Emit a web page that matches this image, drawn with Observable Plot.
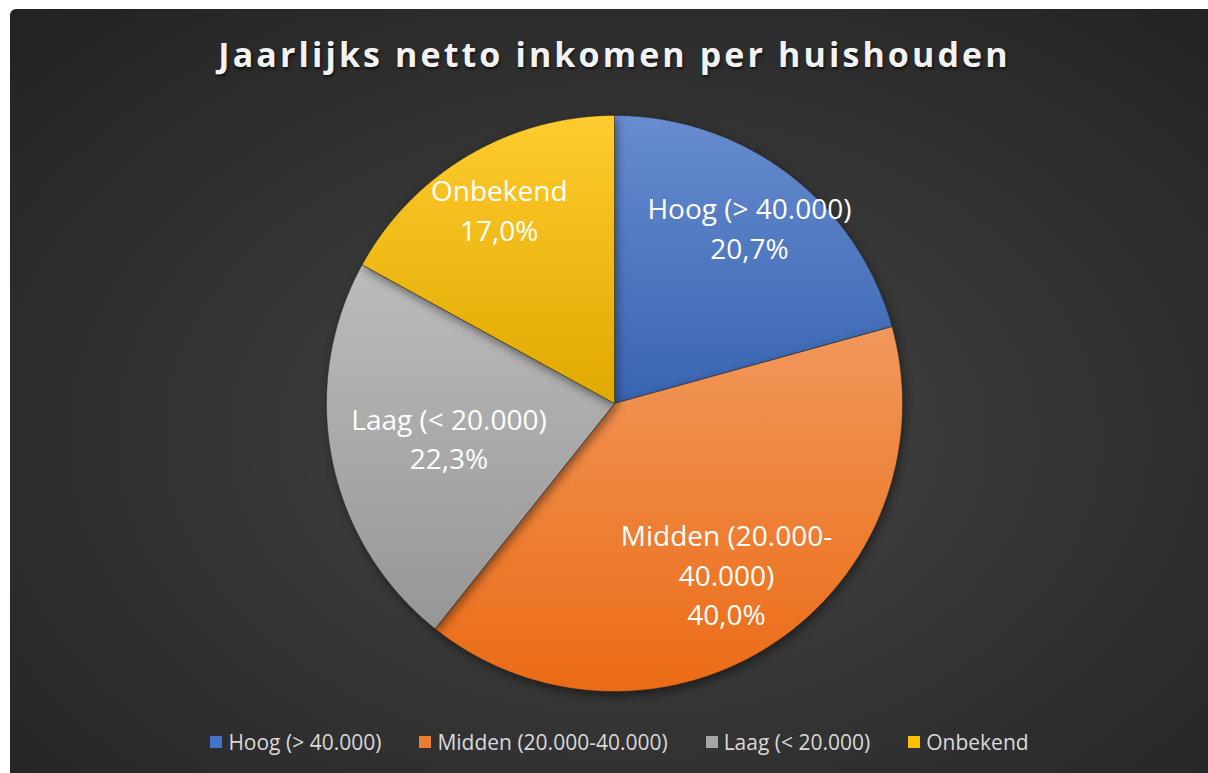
<!DOCTYPE html>
<html><head><meta charset="utf-8">
<script src="https://cdn.jsdelivr.net/npm/d3@7"></script>
<script src="https://cdn.jsdelivr.net/npm/@observablehq/plot@0.6"></script>
<style>
html,body{margin:0;padding:0;background:#fff;width:1208px;height:773px;overflow:hidden;}
#panel{position:absolute;left:10px;top:9px;width:1198px;height:764px;border-top-left-radius:6px;overflow:hidden;
background:radial-gradient(ellipse farthest-corner at 52% 56%, #4a4a4a 0%, #353535 45%, #222222 100%);}
#title{position:absolute;left:4px;top:28px;width:1198px;text-align:center;font:700 34px/34px "Open Sans",sans-serif;letter-spacing:3.1px;padding-left:3px;box-sizing:border-box;color:#f2f2f2;text-shadow:1px 2px 3px rgba(0,0,0,.65);white-space:nowrap;}
#chart{position:absolute;left:304px;top:94px;}
#chart svg g[aria-label="line"]{filter:drop-shadow(2px 4px 5px rgba(0,0,0,0.45));}
#legend{position:absolute;left:10.5px;width:1198px;top:721px;height:24px;display:flex;justify-content:center;align-items:center;gap:38px;font:400 21px "Open Sans",sans-serif;color:#d9d9d9;white-space:nowrap;}
#legend .item{display:flex;align-items:center;gap:6px;}
#legend .sw{width:12px;height:12px;display:inline-block;}
</style></head>
<body>
<div id="panel">
  <div id="title"></div>
  <div id="chart"></div>
  <div id="legend"></div>
</div>
<script>
const title = "Jaarlijks netto inkomen per huishouden";
const categories = ["Hoog (> 40.000)", "Midden (20.000-40.000)", "Laag (< 20.000)", "Onbekend"];
const values = [20.7, 40.0, 22.3, 17.0];
const sliceLabels = ["Hoog (> 40.000)", "Midden (20.000-\n40.000)", "Laag (< 20.000)", "Onbekend"];
const colors = ["#4472C4", "#ED7D31", "#A5A5A5", "#FFC000"];
const labelRadius = [0.774, 0.705, 0.586, 0.786];

const R = 288, S = 600, h = S / 2 / R;
const fmt = v => v.toFixed(1).replace(".", ",") + "%";
const arcs = d3.pie().sort(null).value(d => d)(values);
const slices = arcs.map(a => {
  const pts = [{x: 0, y: 0}];
  const n = Math.ceil((a.endAngle - a.startAngle) / 0.004);
  for (let k = 0; k <= n; k++) {
    const t = a.startAngle + (a.endAngle - a.startAngle) * k / n;
    pts.push({x: Math.sin(t), y: Math.cos(t)});
  }
  pts.push({x: 0, y: 0});
  return pts;
});
const labelData = arcs.map((a, i) => {
  const m = (a.startAngle + a.endAngle) / 2;
  return {x: Math.sin(m) * labelRadius[i], y: Math.cos(m) * labelRadius[i], text: sliceLabels[i] + "\n" + fmt(values[i])};
});

document.getElementById("title").textContent = title;

const svg = Plot.plot({
  width: S, height: S, margin: 0,
  x: {domain: [-h, h], axis: null},
  y: {domain: [-h, h], axis: null},
  style: {background: "transparent", overflow: "visible"},
  marks: [
    ...slices.map((pts, i) => Plot.line(pts, {x: "x", y: "y", fill: `url(#grad${i})`, stroke: "rgba(30,30,30,0.45)", strokeWidth: 1})),
    Plot.text(labelData, {x: "x", y: "y", text: "text", fill: "white", fontSize: 28, lineHeight: 1.42, fontFamily: "Open Sans", lineAnchor: "middle"})
  ]
});
const defs = d3.select(svg).insert("defs", ":first-child");
const shade = (c, dl) => { const o = d3.hsl(c); o.l = Math.max(0, Math.min(1, o.l + dl)); return o.formatHex(); };
colors.forEach((c, i) => {
  const g = defs.append("linearGradient").attr("id", `grad${i}`).attr("x1", 0).attr("y1", 0).attr("x2", 0).attr("y2", 1);
  g.append("stop").attr("offset", 0).attr("stop-color", shade(c, 0.09));
  g.append("stop").attr("offset", 1).attr("stop-color", shade(c, -0.06));
});
document.getElementById("chart").appendChild(svg);

const legend = document.getElementById("legend");
categories.forEach((c, i) => {
  const it = document.createElement("div"); it.className = "item";
  const sw = document.createElement("span"); sw.className = "sw"; sw.style.background = colors[i];
  const tx = document.createElement("span"); tx.textContent = c;
  it.appendChild(sw); it.appendChild(tx); legend.appendChild(it);
});
</script>
</body></html>
